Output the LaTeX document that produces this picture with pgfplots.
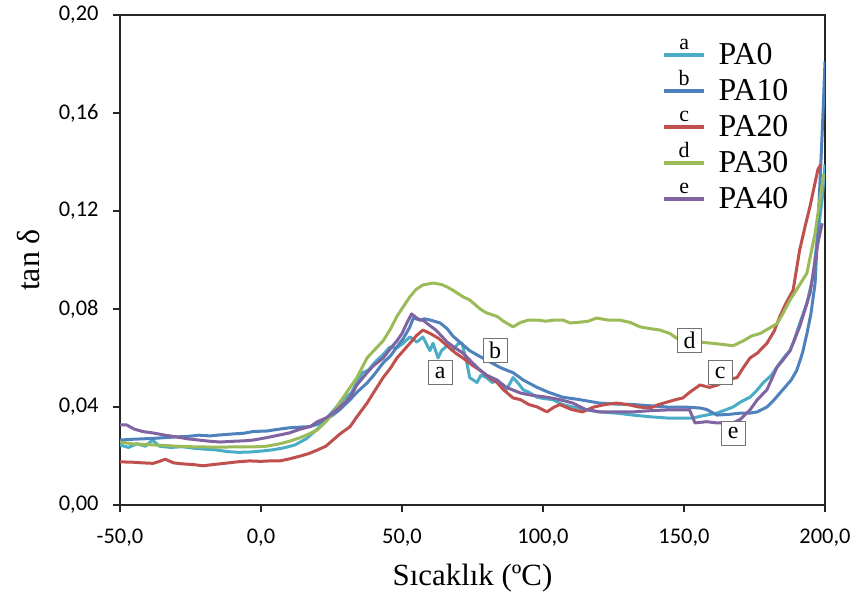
\documentclass[border=0pt]{standalone}
\usepackage{fontspec}
\setmainfont{Liberation Serif}
\newfontfamily\carlito{Carlito}
\usepackage{pgfplots}
\pgfplotsset{compat=1.18}
\definecolor{cA}{HTML}{4BACC6}
\definecolor{cB}{HTML}{4F81BD}
\definecolor{cC}{HTML}{C0504D}
\definecolor{cD}{HTML}{9BBB59}
\definecolor{cE}{HTML}{8064A2}
\newcommand{\legimg}[2]{\draw[#1,line width=3.4bp] (0bp,-1.5bp) -- (40bp,-1.5bp); \node[text=black,font=\fontsize{22}{22}\selectfont,inner sep=0pt,anchor=base] at (20bp,4bp) {#2}; \path (53bp,0bp);}
\pgfplotsset{
  legA/.style={legend image code/.code={\legimg{##1}{a}}},
  legB/.style={legend image code/.code={\legimg{##1}{b}}},
  legC/.style={legend image code/.code={\legimg{##1}{c}}},
  legD/.style={legend image code/.code={\legimg{##1}{d}}},
  legE/.style={legend image code/.code={\legimg{##1}{e}}},
}
\tikzset{lab/.style={draw=black!55,fill=white,line width=0.9bp,inner sep=2bp,minimum width=24bp,minimum height=24bp,font=\fontsize{24}{24}\selectfont}}
\begin{document}
\begin{tikzpicture}
\path[use as bounding box] (-120bp,-93bp) rectangle (733bp,505bp);
\begin{axis}[
  at={(0,0)}, anchor=south west,
  scale only axis, width=705bp, height=490bp,
  xmin=-50, xmax=200, ymin=0, ymax=0.2,
  xtick={-50,0,50,100,150,200},
  ytick={0,0.04,0.08,0.12,0.16,0.2},
  xtick pos=bottom, ytick pos=left,
  tick align=outside, major tick length=7bp,
  axis line style={black!85,line width=1.2bp},
  tick style={black!85,line width=1.2bp},
  /pgf/number format/assume math mode=true,
  xticklabel style={yshift=-13bp,font=\carlito\fontsize{22.5}{22.5}\selectfont,/pgf/number format/.cd,fixed,fixed zerofill,precision=1,use comma},
  yticklabel style={xshift=-11bp,font=\carlito\fontsize{22.5}{22.5}\selectfont,/pgf/number format/.cd,fixed,fixed zerofill,precision=2,use comma},
  scaled y ticks=false,
  xlabel={Sıcaklık (ºC)},
  ylabel={tan δ},
  xlabel style={font=\fontsize{31}{31}\selectfont,at={(axis description cs:0.5,0)},anchor=base,yshift=-80bp},
  ylabel style={font=\fontsize{32}{32}\selectfont,at={(axis description cs:-0.1135,0.5)},anchor=base},
  legend style={draw=none,fill=none,at={(rel axis cs:0.765,0.979)},anchor=north west,
    font=\fontsize{32}{32}\selectfont,row sep=-1bp,
    nodes={inner sep=0pt,text height=22bp,text depth=0bp}},
  legend cell align=left,
  every axis plot/.append style={line width=3bp,line join=round},
]
\addplot[cA,legA] coordinates {
(-50,0.0245)(-47,0.0235)(-44,0.025)(-41,0.024)(-38.5,0.0265)(-36,0.024)(-32,0.0235)(-28,0.0238)(-24,0.0232)(-20,0.0228)(-16,0.0225)(-12,0.0218)(-8,0.0215)(-4,0.0216)(0,0.022)(4,0.0225)(8,0.0233)(12,0.0245)(16,0.027)(20,0.031)(23,0.035)(26,0.039)(29,0.043)(32,0.0457)(34,0.050)(36,0.054)(38,0.055)(41,0.059)(43,0.061)(45.7,0.0645)(48,0.064)(50.4,0.066)(52.8,0.0686)(55.3,0.0665)(57.4,0.0686)(59.9,0.063)(61,0.066)(62.8,0.060)(64,0.063)(66,0.065)(68,0.063)(70,0.066)(71.3,0.066)(73,0.058)(74,0.052)(76.6,0.050)(78,0.053)(80,0.052)(82,0.050)(83.7,0.051)(85,0.049)(87,0.047)(89.4,0.052)(91,0.050)(93,0.047)(95,0.046)(97.9,0.044)(100,0.0435)(103.5,0.043)(107,0.041)(110.6,0.040)(115,0.039)(120,0.038)(126,0.0375)(132,0.0367)(138,0.036)(144,0.0355)(150,0.0355)(153,0.0355)(157,0.0365)(161.7,0.0375)(167.4,0.040)(170,0.042)(173.4,0.044)(176,0.047)(178,0.0498)(181,0.053)(184,0.058)(186,0.061)(187.6,0.063)(189,0.067)(191,0.074)(193.6,0.0824)(195.7,0.093)(197.5,0.111)(199,0.125)(200,0.139)
};
\addlegendentry{PA0}
\addplot[cB,legB] coordinates {
(-50,0.0265)(-46,0.0268)(-42,0.027)(-38,0.0272)(-34,0.0275)(-30,0.0278)(-26,0.028)(-22,0.0285)(-18,0.0282)(-14.5,0.0286)(-10,0.029)(-6,0.0293)(-2.8,0.030)(2,0.0302)(6.7,0.031)(10,0.0315)(14,0.0318)(17.4,0.032)(20,0.033)(23,0.035)(25.5,0.0367)(28,0.039)(31.6,0.043)(34,0.046)(37.6,0.0498)(40,0.053)(43.3,0.058)(46,0.061)(48.2,0.0645)(50.5,0.068)(52.8,0.0727)(54,0.0763)(56.4,0.0755)(58,0.076)(60,0.0755)(63.5,0.0743)(66,0.072)(68,0.069)(71,0.066)(74,0.063)(77,0.061)(81.2,0.0584)(85,0.056)(89.4,0.054)(93,0.051)(97.9,0.048)(102,0.046)(107,0.044)(113,0.043)(120,0.0416)(126,0.0412)(132,0.041)(138,0.0405)(144,0.040)(150,0.040)(155.7,0.0396)(158,0.039)(161.7,0.0367)(166,0.037)(170,0.0375)(173.4,0.0375)(176,0.038)(179.4,0.040)(182,0.043)(185,0.047)(188,0.051)(190,0.055)(192,0.062)(193.6,0.070)(195,0.078)(196.5,0.0906)(198.2,0.131)(199.3,0.160)(200,0.181)
};
\addlegendentry{PA10}
\addplot[cC,legC] coordinates {
(-50,0.0176)(-46,0.0175)(-42,0.0172)(-38.3,0.017)(-36,0.0178)(-34,0.0187)(-31,0.0172)(-28,0.0168)(-24,0.0165)(-20.6,0.016)(-17,0.0165)(-13,0.017)(-8.5,0.0176)(-4,0.018)(0,0.0178)(3,0.018)(6.7,0.018)(10,0.0188)(14,0.020)(17,0.021)(19.9,0.0224)(23,0.024)(25.5,0.0265)(28,0.029)(31.6,0.032)(34,0.036)(37.6,0.0416)(40,0.046)(43.3,0.052)(46,0.056)(48.2,0.060)(50.5,0.063)(52.8,0.066)(55,0.069)(57.4,0.0714)(60,0.070)(63,0.068)(66,0.065)(69,0.062)(71.6,0.060)(75,0.057)(77.7,0.055)(81,0.052)(83.7,0.050)(86,0.047)(89.4,0.0437)(92,0.043)(95,0.041)(98,0.040)(101.4,0.038)(104,0.040)(106,0.041)(110,0.039)(114,0.038)(118,0.040)(122,0.041)(126,0.0416)(130,0.041)(134,0.040)(138,0.0396)(141,0.041)(144,0.042)(147,0.043)(149.6,0.0437)(152,0.046)(155.7,0.049)(159,0.048)(162,0.049)(165,0.051)(168.8,0.052)(171,0.056)(173.4,0.060)(176,0.062)(179.4,0.066)(182,0.071)(184,0.077)(186,0.082)(188.7,0.0877)(191,0.104)(193,0.114)(194.7,0.122)(197.5,0.137)(198.5,0.139)
};
\addlegendentry{PA20}
\addplot[cD,legD] coordinates {
(-50,0.0257)(-46,0.025)(-42,0.0248)(-38,0.0245)(-34,0.0243)(-30,0.024)(-26,0.0238)(-20.6,0.0237)(-16,0.0236)(-10,0.0237)(-2.8,0.0237)(2,0.024)(6.7,0.025)(10,0.026)(14,0.0275)(17,0.029)(19.9,0.0306)(23,0.034)(25.5,0.0375)(28,0.042)(31.6,0.048)(34,0.052)(37.6,0.060)(40,0.063)(43.3,0.067)(46,0.072)(48.2,0.077)(50.5,0.081)(52.8,0.085)(55,0.088)(57.4,0.0898)(61,0.0906)(64,0.090)(66,0.089)(68,0.0877)(71.6,0.085)(74,0.0837)(77.7,0.080)(80,0.0784)(83.7,0.077)(86,0.075)(89.4,0.0727)(92,0.0745)(95,0.0755)(98,0.0755)(101,0.075)(104,0.0755)(107,0.0755)(109.6,0.0743)(112,0.0745)(116,0.075)(119,0.0763)(123,0.0755)(127,0.0755)(131,0.0745)(134.4,0.0727)(138,0.072)(141.5,0.0714)(145,0.070)(147.5,0.068)(150,0.067)(155.7,0.0665)(160,0.066)(164,0.0655)(167.4,0.065)(171,0.067)(174,0.069)(177,0.070)(180,0.072)(183,0.074)(185,0.078)(187.6,0.0837)(190,0.088)(193.6,0.0947)(196.5,0.111)(199,0.131)(199.6,0.135)
};
\addlegendentry{PA30}
\addplot[cE,legE] coordinates {
(-50,0.0327)(-47.7,0.0327)(-45,0.031)(-42,0.030)(-38.3,0.0294)(-34,0.0285)(-30,0.0278)(-26,0.027)(-22,0.0265)(-18,0.026)(-14.5,0.0257)(-10,0.026)(-6,0.0262)(-2.8,0.0265)(2,0.0275)(6.7,0.0286)(10,0.0294)(14,0.031)(17.4,0.032)(20,0.034)(23,0.0355)(25.5,0.0375)(28,0.040)(31.6,0.044)(34,0.049)(37.6,0.054)(40,0.057)(43.3,0.060)(46,0.064)(48.2,0.067)(50,0.070)(51.6,0.074)(53.4,0.078)(55,0.0765)(56.4,0.0755)(57.4,0.0755)(59,0.074)(62,0.0714)(64,0.069)(66,0.0665)(69,0.064)(71.6,0.062)(75,0.058)(77.7,0.055)(80,0.053)(83.7,0.051)(87,0.048)(92,0.0457)(96,0.0448)(101.4,0.044)(106,0.043)(110.6,0.0416)(115,0.039)(120,0.038)(126,0.038)(132,0.038)(138,0.0385)(144,0.0388)(148,0.0388)(152,0.0388)(153.9,0.0335)(158,0.034)(161.7,0.0335)(167.4,0.0335)(170,0.035)(173.4,0.0388)(176,0.043)(179.4,0.047)(183,0.0563)(185,0.059)(187.6,0.063)(191,0.0727)(194.7,0.0865)(197.5,0.107)(199,0.115)
};
\addlegendentry{PA40}
\node[lab] at (axis cs:63.5,0.054) {a};
\node[lab] at (axis cs:83,0.063) {b};
\node[lab] at (axis cs:162.8,0.054) {c};
\node[lab] at (axis cs:152,0.0673) {d};
\node[lab] at (axis cs:167.4,0.0294) {e};
\end{axis}
\end{tikzpicture}
\end{document}
